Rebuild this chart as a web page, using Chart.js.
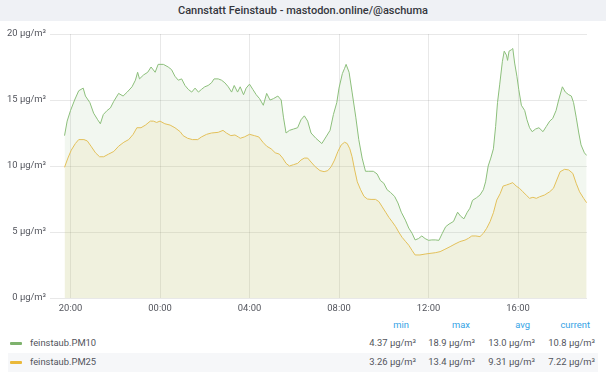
<!DOCTYPE html>
<html>
<head>
<meta charset="utf-8">
<script src="https://cdn.jsdelivr.net/npm/chart.js@4.4.0/dist/chart.umd.min.js"></script>
<style>
  body { margin: 0; width: 606px; height: 379px; background: #fff; font-family: Roboto, sans-serif; position: relative; overflow: hidden; }
  #title { position: absolute; left: 0; top: 0; width: 606px; height: 21px; line-height: 21px; background: #eff1f5; color: #35373d; font-size: 11px; font-weight: 500; text-align: center; }
  #chart { position: absolute; left: 0; top: 21px; }
  .cell { position: absolute; font-size: 9.4px; line-height: 12px; white-space: nowrap; color: #52545c; }
  .head { color: #33a2e5; }
  .band { position: absolute; left: 8px; width: 590px; height: 19px; background: #f6f7f9; }
  .swatch { position: absolute; left: 10px; width: 12px; height: 3px; border-radius: 1px; }
</style>
</head>
<body>
<div id="title">Cannstatt Feinstaub - mastodon.online/@aschuma</div>
<canvas id="chart" width="606" height="297"></canvas>
<div id="legend"></div>
<script>
'use strict'

// time window shown (last 24h), x tick labels
var rangeStart = '19:05';
var tickLabels = ['20:00', '00:00', '04:00', '08:00', '12:00', '16:00'];

var pm10Times = ['19:44','19:51','20:00','20:11','20:22','20:34','20:40','20:52','21:02','21:13','21:20','21:28','21:38','21:47','21:56','22:09','22:21','22:32','22:45','22:54','23:00','23:05','23:16','23:27','23:36','23:47','23:55',
  '00:09','00:22','00:31','00:40','00:49','00:58','01:07','01:16','01:25','01:34','01:43','01:51','02:00','02:09','02:18','02:25','02:36','02:45','02:54','03:03','03:12','03:19','03:28','03:35','03:44','03:51',
  '04:00','04:09','04:18','04:27','04:37','04:46','04:55','05:04','05:16','05:25','05:31','05:38','05:47','05:58','06:09','06:18','06:27','06:36','06:45','06:58','07:14','07:25','07:36','07:45','07:54',
  '08:00','08:09','08:15','08:19','08:27','08:35','08:45','08:53','09:02','09:11','09:20','09:32','09:42','09:51','10:00','10:09','10:18','10:29','10:38','10:47','10:58','11:07','11:16','11:24','11:33','11:42','11:51',
  '12:00','12:09','12:18','12:28','12:37','12:46','12:55','13:07','13:18','13:26','13:35','13:44','13:51','13:58','14:09','14:18','14:27','14:33','14:40','14:47','14:54','15:00','15:05','15:11','15:18','15:23','15:29','15:32','15:36','15:42','15:46','15:51','15:57',
  '16:02','16:09','16:18','16:24','16:31','16:38','16:47','16:56','17:07','17:16','17:25','17:33','17:42','17:49','17:59','18:07','18:16','18:23','18:29','18:36','18:43','18:49','18:58','19:04'];
var pm10Values = [12.3,13.4,14.2,15.0,15.7,15.9,15.3,14.8,14.0,13.5,13.2,13.9,14.2,14.4,14.9,15.5,15.3,15.6,16.0,16.5,17.1,16.6,16.9,17.1,17.5,17.1,17.7,
  17.7,17.5,17.3,16.8,16.5,16.6,16.1,15.8,15.6,15.9,15.6,15.8,16.0,16.1,16.3,16.6,16.6,16.5,16.3,16.0,15.6,16.1,15.6,16.0,15.4,15.9,
  16.2,15.8,15.4,15.1,14.6,15.5,15.0,15.1,15.3,15.0,13.7,12.5,12.7,12.8,12.9,13.5,13.8,13.4,12.5,12.1,11.7,12.2,12.7,13.9,14.8,
  15.9,17.0,17.4,17.7,17.1,15.6,13.7,12.0,10.6,9.6,9.6,9.6,9.4,8.9,8.7,8.2,8.0,7.7,7.2,6.5,5.9,5.3,4.9,4.4,4.5,4.7,4.5,
  4.37,4.4,4.4,4.37,4.9,5.4,5.6,5.8,6.5,6.2,6.0,6.5,6.8,7.4,7.6,7.8,8.2,8.8,10.0,10.6,11.3,13.0,14.8,16.2,17.9,18.7,18.4,18.0,18.7,18.8,18.9,17.8,16.8,
  15.8,14.6,14.2,13.5,12.9,12.6,12.8,12.9,12.6,13.0,13.4,13.6,14.2,15.0,16.0,15.6,15.4,15.3,14.8,13.7,12.5,11.6,11.0,10.8];

var pm25Times = ['19:44','19:53','20:02','20:13','20:22','20:36','20:45','20:55','21:07','21:18','21:29','21:42','21:56','22:09','22:23','22:36','22:48','22:58','23:09','23:21','23:34','23:42','23:51',
  '00:00','00:13','00:27','00:40','00:54','01:02','01:14','01:27','01:41','01:51','02:05','02:18','02:36','02:49','02:58','03:10','03:21','03:30','03:35','03:46',
  '04:00','04:13','04:25','04:36','04:46','04:58','05:09','05:20','05:29','05:38','05:47','05:58','06:09','06:18','06:27','06:36','06:45','06:56','07:09','07:20','07:30','07:39','07:48','07:57',
  '08:06','08:15','08:22','08:29','08:35','08:42','08:49','08:58','09:07','09:16','09:26','09:38','09:47','09:56','10:05','10:14','10:22','10:32','10:40','10:49','10:58','11:07','11:16','11:24','11:37','11:51',
  '12:04','12:18','12:31','12:44','12:58','13:11','13:24','13:38','13:47','13:56','14:07','14:18','14:27','14:36','14:45','14:54','15:03','15:12','15:20','15:29','15:37','15:46','15:55',
  '16:04','16:13','16:22','16:31','16:40','16:49','16:58','17:11','17:25','17:35','17:44','17:53','18:05','18:16','18:27','18:36','18:45','18:56','19:04'];
var pm25Values = [9.9,10.6,11.2,11.7,12.0,12.0,11.9,11.5,11.0,10.7,10.7,10.9,11.1,11.5,11.8,12.0,12.4,12.9,12.9,13.1,13.4,13.4,13.3,
  13.4,13.2,13.1,12.9,12.6,12.3,12.1,12.0,12.0,12.2,12.4,12.5,12.55,12.7,12.5,12.3,12.35,12.2,12.1,12.2,
  12.4,12.3,12.2,11.8,11.5,11.3,11.0,10.9,10.6,10.2,10.0,10.1,10.2,10.45,10.6,10.6,10.3,9.95,9.65,9.57,9.65,9.95,10.45,11.1,
  11.6,11.8,11.7,11.3,10.7,9.7,8.8,8.2,7.7,7.5,7.47,7.47,7.3,6.9,6.5,6.1,5.8,5.4,5.0,4.6,4.3,4.0,3.6,3.26,3.26,3.33,
  3.38,3.43,3.51,3.69,3.89,4.09,4.27,4.39,4.52,4.7,4.7,4.65,4.9,5.28,5.78,6.46,7.42,7.9,8.48,8.56,8.64,8.74,8.48,
  8.31,8.05,7.8,7.55,7.63,7.55,7.67,7.8,8.05,8.31,8.94,9.57,9.75,9.7,9.44,8.69,8.05,7.55,7.22];

// legend table
var statNames = ['min', 'max', 'avg', 'current'];
var pm10Stats = ['4.37 µg/m³', '18.9 µg/m³', '13.0 µg/m³', '10.8 µg/m³'];
var pm25Stats = ['3.26 µg/m³', '13.4 µg/m³', '9.31 µg/m³', '7.22 µg/m³'];

// minutes relative to 20:00; anything before the window start belongs to the next day
function clock(t) {
  var p = t.split(':');
  return parseInt(p[0], 10) * 60 + parseInt(p[1], 10) - 1200;
}
var xMin = clock(rangeStart);
var xMax = xMin + 1440;

function toMin(t) {
  var m = clock(t);
  if (m < xMin) m += 1440;
  return m;
}

var tickValues = tickLabels.map(toMin);

function points(times, values) {
  return times.map(function(t, i) { return { x: toMin(t), y: values[i] }; });
}

var gridColor = 'rgba(0,0,0,0.09)';
var tickFont = { family: 'Roboto', size: 9.4 };

var chart = new Chart(document.getElementById('chart'), {
  type: 'line',
  data: {
    datasets: [{
      label: 'feinstaub.PM10',
      data: points(pm10Times, pm10Values),
      borderColor: '#8cbf7b',
      backgroundColor: 'rgba(126,178,109,0.1)',
      fill: 'origin',
      borderWidth: 1,
      pointRadius: 0,
      tension: 0
    }, {
      label: 'feinstaub.PM25',
      data: points(pm25Times, pm25Values),
      borderColor: '#eec258',
      backgroundColor: 'rgba(234,184,57,0.1)',
      fill: 'origin',
      borderWidth: 1,
      pointRadius: 0,
      tension: 0
    }]
  },
  options: {
    responsive: false,
    animation: false,
    layout: { padding: { top: 13, right: 19, left: 0, bottom: 0 } },
    plugins: { legend: { display: false }, tooltip: { enabled: false } },
    scales: {
      x: {
        type: 'linear',
        min: xMin,
        max: xMax,
        afterBuildTicks: function(axis) { axis.ticks = tickValues.map(function(v) { return { value: v }; }); },
        afterFit: function(axis) { axis.height = 20; },
        ticks: {
          autoSkip: false,
          maxRotation: 0,
          padding: 5,
          color: '#52545c',
          font: tickFont,
          callback: function(v, i) { return tickLabels[i]; }
        },
        grid: { color: gridColor, drawTicks: false },
        border: { display: false }
      },
      y: {
        min: 0,
        max: 20,
        afterFit: function(axis) { axis.width = 50; },
        ticks: {
          stepSize: 5,
          padding: 4,
          color: '#52545c',
          font: tickFont,
          callback: function(v) { return v + ' µg/m³'; }
        },
        grid: { color: gridColor, drawTicks: false },
        border: { display: false }
      }
    }
  }
});

// legend below the chart
var legend = document.getElementById('legend');
var headRight = [409, 470, 530, 590];
var valueRight = [416, 475, 535, 595];
var rows = [
  { name: 'feinstaub.PM10', color: '#7eb26d', stats: pm10Stats, y: 343, band: false },
  { name: 'feinstaub.PM25', color: '#eab839', stats: pm25Stats, y: 362, band: true }
];

function cell(text, right, y, cls) {
  var d = document.createElement('div');
  d.className = 'cell ' + (cls || '');
  d.textContent = text;
  d.style.right = (606 - right) + 'px';
  d.style.top = (y - 6) + 'px';
  legend.appendChild(d);
}

statNames.forEach(function(s, i) { cell(s, headRight[i], 325, 'head'); });

rows.forEach(function(r) {
  if (r.band) {
    var b = document.createElement('div');
    b.className = 'band';
    b.style.top = (r.y - 9) + 'px';
    legend.appendChild(b);
  }
  var sw = document.createElement('div');
  sw.className = 'swatch';
  sw.style.background = r.color;
  sw.style.top = (r.y - 1) + 'px';
  legend.appendChild(sw);
  var n = document.createElement('div');
  n.className = 'cell';
  n.textContent = r.name;
  n.style.left = '30px';
  n.style.top = (r.y - 6) + 'px';
  legend.appendChild(n);
  r.stats.forEach(function(s, i) { cell(s, valueRight[i], r.y); });
});
</script>
</body>
</html>
